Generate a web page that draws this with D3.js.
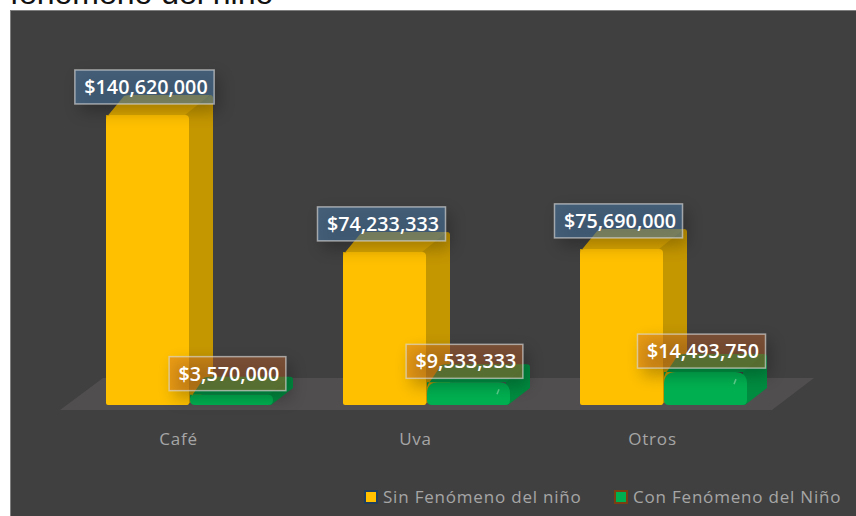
<!DOCTYPE html>
<html>
<head>
<meta charset="utf-8">
<script src="https://cdn.jsdelivr.net/npm/d3@7"></script>
<style>
body { margin: 0; background: #fff; }
svg { display: block; }
</style>
</head>
<body>
<script>
var categories = ["Café", "Uva", "Otros"];
var seriesNames = ["Sin Fenómeno del niño", "Con Fenómeno del Niño"];
var sinFenomeno = [140620000, 74233333, 75690000];
var conFenomeno = [3570000, 9533333, 14493750];

var width = 856, height = 516;

var svg = d3.select("body").append("svg")
    .attr("width", width)
    .attr("height", height);

var defs = svg.append("defs");
var blur = defs.append("filter").attr("id", "shadow")
    .attr("x", "-20%").attr("y", "-50%").attr("width", "140%").attr("height", "220%");
blur.append("feGaussianBlur").attr("stdDeviation", 8);

// title, cut off by the top of the picture
svg.append("text").text("fenómeno del niño")
    .attr("x", 10).attr("y", 4)
    .attr("font-family", "Liberation Sans").attr("font-size", 32).attr("fill", "#111");

// chart panel
svg.append("rect")
    .attr("x", 10.5).attr("y", 10.5)
    .attr("width", 860).attr("height", 520)
    .attr("fill", "#404040").attr("stroke", "#7f7f7f");

// scales
var x0 = d3.scaleBand().domain(categories).range([60, 771]);
var x1 = d3.scaleBand().domain(seriesNames).range([46, 212]);
var y = d3.scaleLinear().domain([0, 160000000]).range([405, 75]);

// floor
var floorPts = [[60, 410], [103, 378], [814, 378], [772, 410]];
svg.append("path")
    .attr("d", d3.line()(floorPts) + "Z")
    .attr("fill", "#504e4e");

var styles = [
    { front: "#ffc000", side: "#c49600", top: "#dca700", label: "#4b7aa8", alpha: 0.55, dx: 24, dy: 20, foot: 2, bevel: 0 },
    { front: "#00b050", side: "#008c40", top: "#009645", label: "#cc6b2d", alpha: 0.42, dx: 20, dy: 18, foot: 5, bevel: 3 }
];

function frontPath(x, w, top, base, r, foot) {
    return "M" + (x + foot) + "," + base
        + "Q" + x + "," + base + " " + x + "," + (base - foot)
        + "V" + (top + r)
        + "Q" + x + "," + top + " " + (x + r) + "," + top
        + "H" + (x + w - r)
        + "Q" + (x + w) + "," + top + " " + (x + w) + "," + (top + r)
        + "V" + (base - foot)
        + "Q" + (x + w) + "," + base + " " + (x + w - foot) + "," + base + "Z";
}

function sidePath(x, w, top, base, st) {
    var xr = x + w - 4;
    return "M" + xr + "," + top
        + "L" + (x + w + st.dx - 3) + "," + (top - st.dy)
        + "Q" + (x + w + st.dx) + "," + (top - st.dy) + " " + (x + w + st.dx) + "," + (top - st.dy + 3)
        + "V" + (base - st.dy + 1)
        + "L" + (x + w - 2) + "," + base
        + "H" + xr + "Z";
}

function topPath(x, w, top, r, st) {
    var left = Math.min(r, 5);
    return "M" + x + "," + (top + left)
        + "Q" + (x + 1) + "," + (top + 1) + " " + (x + 4) + "," + (top - 2)
        + "L" + (x + st.dx - 6) + "," + (top - st.dy + 1)
        + "Q" + (x + st.dx - 3) + "," + (top - st.dy) + " " + (x + st.dx) + "," + (top - st.dy)
        + "H" + (x + w + st.dx - 3)
        + "L" + (x + w) + "," + top
        + "H" + x + "Z";
}

var bars = [];
categories.forEach(function (c, i) {
    bars.push({ cat: c, s: 0, v: sinFenomeno[i] });
    bars.push({ cat: c, s: 1, v: conFenomeno[i] });
});

var barG = svg.append("g");
bars.forEach(function (d) {
    var st = styles[d.s];
    var x = x0(d.cat) + x1(seriesNames[d.s]) + (d.s == 1 ? 1 : 0);
    var w = x1.bandwidth();
    var top = y(d.v) - st.bevel, base = y(0);
    var h = base - top;
    var r = d.s == 0 ? 4 : Math.min(h * 0.5, 12);
    var g = barG.append("g");
    g.append("path").attr("d", topPath(x, w, top, r, st)).attr("fill", st.top);
    g.append("path").attr("d", sidePath(x, w, top, base, st)).attr("fill", st.side);
    g.append("path").attr("d", frontPath(x, w, top, base, r, Math.min(st.foot, h / 2))).attr("fill", st.front);
    if (d.s == 1 && h > 15) {
        // small glint on the rounded corner
        g.append("path")
            .attr("d", "M" + (x + w - 13) + "," + (top + 12) + "l2,-5")
            .attr("stroke", "#5fd08e").attr("stroke-width", 1.5);
    }
});

// data labels
var labelG = svg.append("g");
bars.forEach(function (d) {
    var st = styles[d.s];
    var cx = x0(d.cat) + x1(seriesNames[d.s]) + x1.bandwidth() / 2 - 3;
    var bottom = y(d.v) - (d.s == 0 ? 11 : 7);
    var g = labelG.append("g");
    var t = g.append("text").text(d3.format("$,")(d.v))
        .attr("x", cx + 1.5).attr("y", bottom - 10)
        .attr("text-anchor", "middle")
        .attr("font-family", "Open Sans").attr("font-size", 19.7).attr("font-weight", 600)
        .attr("fill", "#fff");
    var w = t.node().getBBox().width + 16;
    g.insert("rect", "text")
        .attr("x", cx - w / 2 + 5).attr("y", bottom - 28)
        .attr("width", w).attr("height", 36)
        .attr("fill", "#000").attr("opacity", 0.25).attr("filter", "url(#shadow)");
    g.insert("rect", "text")
        .attr("x", cx - w / 2).attr("y", bottom - 34)
        .attr("width", w).attr("height", 34)
        .attr("fill", st.label).attr("fill-opacity", st.alpha)
        .attr("stroke", "#d9d9d9").attr("stroke-opacity", 0.65).attr("stroke-width", 1.5);
});

// category labels
svg.append("g").selectAll("text").data(categories).enter().append("text")
    .text(function (d) { return d; })
    .attr("x", function (d) { return x0(d) + x0.bandwidth() / 2; })
    .attr("y", 445)
    .attr("text-anchor", "middle")
    .attr("font-family", "Open Sans").attr("font-size", 17).attr("letter-spacing", 0.8)
    .attr("fill", "#a6a6a6");

// legend
var legendX = [365, 615];
var swatchEdge = ["#1f3d5c", "#7a3e12"];
seriesNames.forEach(function (name, i) {
    svg.append("rect")
        .attr("x", legendX[i]).attr("y", 491)
        .attr("width", 12).attr("height", 12)
        .attr("fill", styles[i].front)
        .attr("stroke", swatchEdge[i]).attr("stroke-width", 2);
    svg.append("text").text(name)
        .attr("x", legendX[i] + 18).attr("y", 503)
        .attr("font-family", "Open Sans").attr("font-size", 17).attr("letter-spacing", 0.8)
        .attr("fill", "#a6a6a6");
});
</script>
</body>
</html>
